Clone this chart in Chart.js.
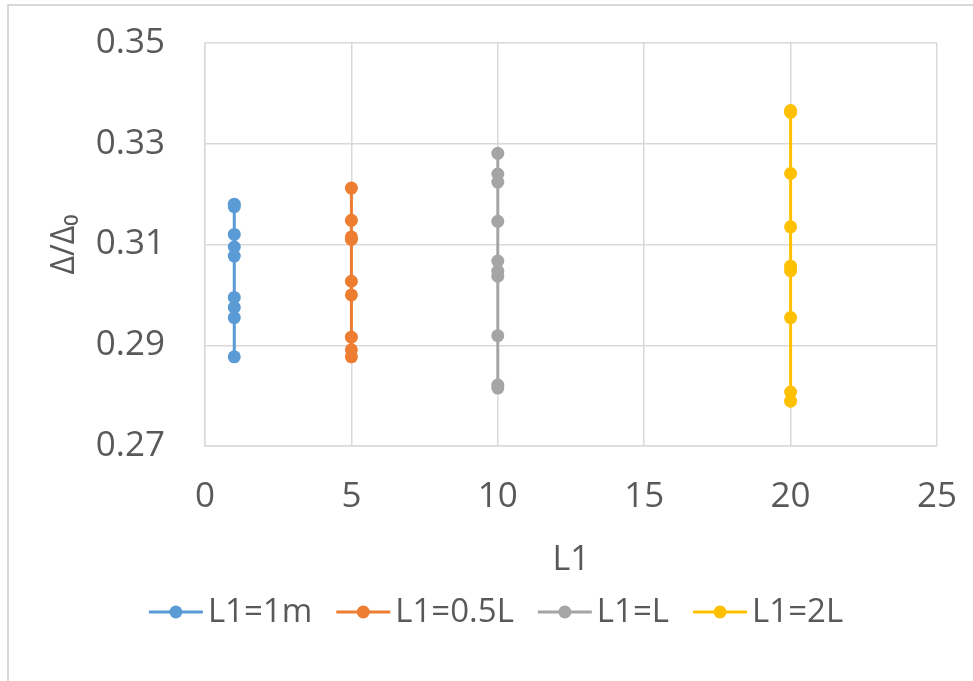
<!DOCTYPE html>
<html>
<head>
<meta charset="utf-8">
<script src="https://cdn.jsdelivr.net/npm/chart.js@4"></script>
<style>
  html, body { margin: 0; padding: 0; background: #ffffff; }
  #wrap { width: 973px; height: 681px; position: relative; }
</style>
</head>
<body>
<div id="wrap"><canvas id="c" width="973" height="681"></canvas></div>
<script>
// ---- data ----
const seriesNames = ["L1=1m", "L1=0.5L", "L1=L", "L1=2L"];
const seriesX = [1, 5, 10, 20];
const blueY   = [0.3180, 0.3175, 0.3120, 0.3095, 0.3077, 0.2995, 0.2975, 0.2955, 0.2877];
const orangeY = [0.3212, 0.3148, 0.3115, 0.3110, 0.3027, 0.3000, 0.2916, 0.2891, 0.2877];
const grayY   = [0.3281, 0.3240, 0.3224, 0.3146, 0.3067, 0.3047, 0.3037, 0.2919, 0.2821, 0.2815];
const yellowY = [0.3366, 0.3362, 0.3241, 0.3135, 0.3057, 0.3048, 0.2955, 0.2807, 0.2789];
const seriesY = [blueY, orangeY, grayY, yellowY];
const xTicks = [0, 5, 10, 15, 20, 25];
const yTicks = [0.27, 0.29, 0.31, 0.33, 0.35];
const xTitle = "L1";
const yTitle = "Δ/Δ₀";

const colors = ["#5B9BD5", "#ED7D31", "#A5A5A5", "#FFC000"];
const FONT = "'Open Sans', 'Liberation Sans', sans-serif";
const TXT = "#595959";
const GRID = "#d9d9d9";

const datasets = seriesNames.map((name, i) => ({
  label: name,
  data: seriesY[i].map(y => ({ x: seriesX[i], y: y })),
  showLine: true,
  borderColor: colors[i],
  backgroundColor: colors[i],
  borderWidth: 3,
  pointRadius: 6.5,
  pointHoverRadius: 6.5,
  pointBorderWidth: 0,
  pointBackgroundColor: colors[i]
}));

const framePlugin = {
  id: 'frame',
  beforeDraw(chart) {
    const ctx = chart.ctx;
    ctx.save();
    ctx.fillStyle = '#ffffff';
    ctx.fillRect(0, 0, chart.width, chart.height);
    ctx.strokeStyle = '#d9d9d9';
    ctx.lineWidth = 2;
    ctx.beginPath();
    ctx.moveTo(8, chart.height);
    ctx.lineTo(8, 5);
    ctx.lineTo(chart.width, 5);
    ctx.stroke();
    ctx.restore();
  }
};

const legendPlugin = {
  id: 'lineLegend',
  afterDraw(chart) {
    const ctx = chart.ctx;
    ctx.save();
    ctx.font = "33px " + FONT;
    ctx.textBaseline = 'middle';
    const lineLen = 54, gapText = 5, gapItem = 24;
    const ds = chart.data.datasets;
    const widths = ds.map(d => ctx.measureText(d.label).width);
    let total = 0;
    widths.forEach((w, i) => { total += lineLen + gapText + w + (i < ds.length - 1 ? gapItem : 0); });
    let x = 496 - total / 2;
    const y = 612;
    ds.forEach((d, i) => {
      ctx.strokeStyle = d.borderColor;
      ctx.lineWidth = 3;
      ctx.beginPath();
      ctx.moveTo(x, y);
      ctx.lineTo(x + lineLen, y);
      ctx.stroke();
      ctx.fillStyle = d.borderColor;
      ctx.beginPath();
      ctx.arc(x + lineLen / 2, y, 6.5, 0, Math.PI * 2);
      ctx.fill();
      ctx.fillStyle = TXT;
      ctx.textAlign = 'left';
      ctx.fillText(d.label, x + lineLen + gapText, y + 1);
      x += lineLen + gapText + widths[i] + gapItem;
    });
    ctx.restore();
  }
};

function noPad(s) {
  s.paddingTop = 0; s.paddingBottom = 0; s.paddingLeft = 0; s.paddingRight = 0;
}

new Chart(document.getElementById('c'), {
  type: 'scatter',
  data: { datasets: datasets },
  plugins: [framePlugin, legendPlugin],
  options: {
    responsive: false,
    animation: false,
    layout: { padding: { top: 43, left: 8, right: 36, bottom: 0 } },
    plugins: {
      legend: { display: false },
      tooltip: { enabled: false }
    },
    scales: {
      x: {
        type: 'linear',
        min: xTicks[0],
        max: xTicks[xTicks.length - 1],
        afterBuildTicks: s => { s.ticks = xTicks.map(v => ({ value: v })); },
        afterFit: s => { s.height = 235; noPad(s); },
        grid: { color: GRID, lineWidth: 1.5, drawTicks: false },
        border: { color: GRID, width: 1.5 },
        ticks: { color: TXT, font: { family: FONT, size: 35 }, padding: 30, callback: v => String(v) },
        title: { display: true, text: xTitle, color: TXT, font: { family: FONT, size: 34 }, padding: { top: 0, bottom: 100 } }
      },
      y: {
        type: 'linear',
        min: yTicks[0],
        max: yTicks[yTicks.length - 1],
        afterBuildTicks: s => { s.ticks = yTicks.map(v => ({ value: v })); },
        afterFit: s => { s.width = 197; noPad(s); },
        grid: { color: GRID, lineWidth: 1.5, drawTicks: false },
        border: { color: GRID, width: 1.5 },
        ticks: { color: TXT, font: { family: FONT, size: 35 }, padding: 40, callback: v => Number(v).toFixed(2) },
        title: { display: true, text: yTitle, color: TXT, font: { family: FONT, size: 32 }, padding: { top: 38, bottom: 0 } }
      }
    }
  }
});
</script>
</body>
</html>
